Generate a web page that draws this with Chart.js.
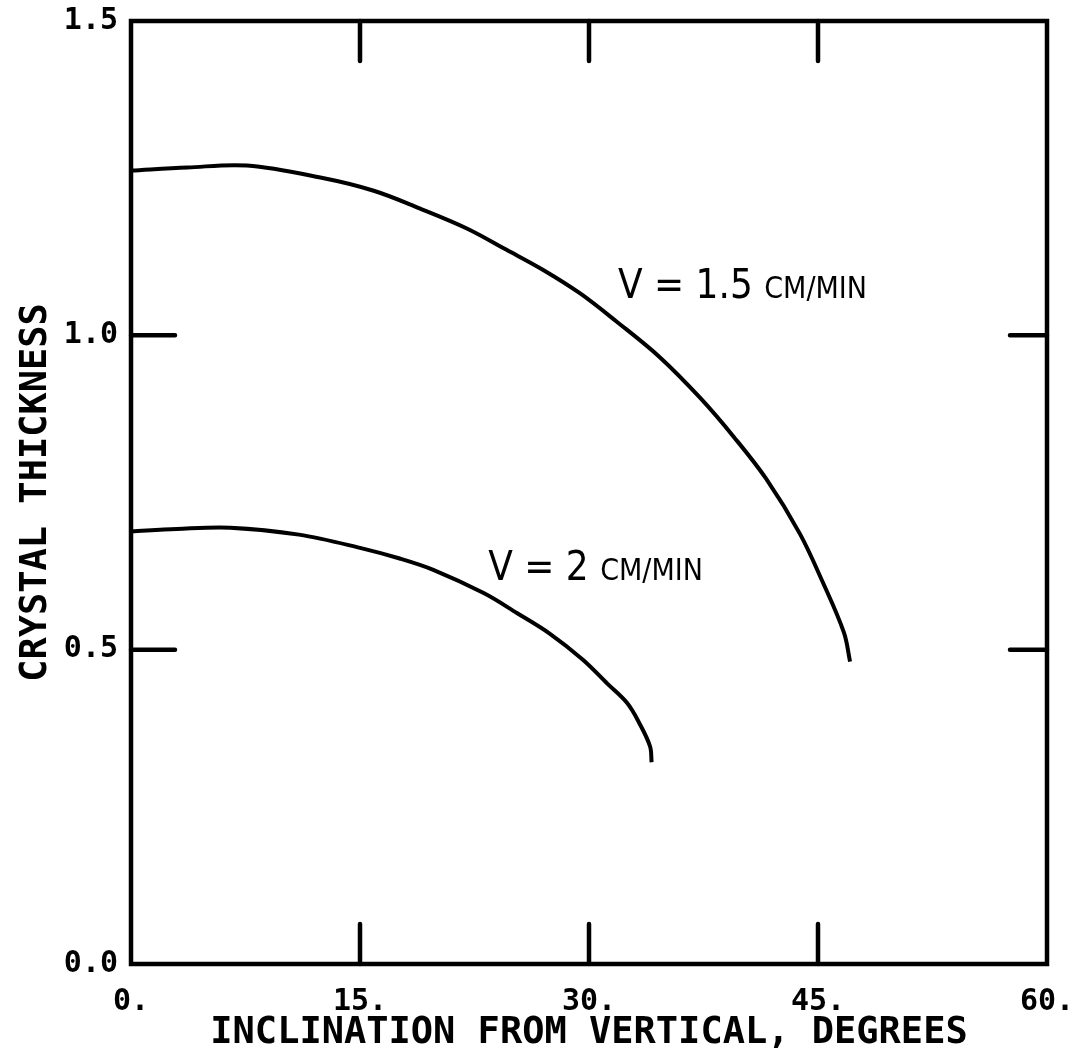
<!DOCTYPE html>
<html>
<head>
<meta charset="utf-8">
<script src="https://cdn.jsdelivr.net/npm/chart.js@4/dist/chart.umd.min.js"></script>
<style>
  html, body { margin: 0; padding: 0; background: #fff; }
  #wrap { width: 1082px; height: 1058px; }
</style>
</head>
<body>
<div id="wrap"><canvas id="c" width="1082" height="1058"></canvas></div>
<script>
// ---- data ----
const xTicks = [0, 15, 30, 45, 60];
const yTicks = [0.0, 0.5, 1.0, 1.5];

const v15_x = [0, 3.7, 7.6, 12.4, 15.9, 18.9, 22.0, 24.6, 27.0, 29.4, 31.8, 34.6, 37.3, 39.5, 41.6, 43.8, 45.3, 46.7, 47.1];
const v15_y = [1.262, 1.267, 1.270, 1.251, 1.230, 1.202, 1.170, 1.136, 1.104, 1.067, 1.022, 0.966, 0.900, 0.838, 0.772, 0.685, 0.608, 0.527, 0.481];

const v2_x = [0, 3, 6.5, 11, 15, 17.6, 19.8, 23.1, 25.3, 27.4, 29.6, 31.2, 32.5, 33.3, 34.0, 34.1];
const v2_y = [0.688, 0.692, 0.694, 0.683, 0.662, 0.645, 0.627, 0.590, 0.558, 0.526, 0.484, 0.446, 0.415, 0.383, 0.346, 0.321];

const seriesLabels = ["V = 1.5 CM/MIN", "V = 2 CM/MIN"];
const labelBig = ["V = 1.5 ", "V = 2 "];
const labelSmall = ["CM/MIN", "CM/MIN"];
const labelAt = [[31.9, 1.06], [23.4, 0.611]];

const xTitle = "INCLINATION FROM VERTICAL, DEGREES";
const yTitle = "CRYSTAL THICKNESS";

const toPts = (xs, ys) => xs.map((x, i) => ({ x: x, y: ys[i] }));

const tickFont = { family: "'DejaVu Sans Mono'", weight: 'bold', size: 30 };
const titleFont = { family: "'DejaVu Sans Mono'", weight: 'bold', size: 37 };

const framePlugin = {
  id: 'frame',
  afterDraw(chart) {
    const ctx = chart.ctx;
    const a = chart.chartArea;
    const xs = chart.scales.x, ys = chart.scales.y;
    ctx.save();
    ctx.strokeStyle = '#000';
    ctx.lineWidth = 4.5;
    ctx.lineCap = 'round';
    ctx.strokeRect(a.left, a.top, a.right - a.left, a.bottom - a.top);
    const L = 40;
    xTicks.forEach(v => {
      if (v === xs.min || v === xs.max) return;
      const px = xs.getPixelForValue(v);
      ctx.beginPath();
      ctx.moveTo(px, a.bottom); ctx.lineTo(px, a.bottom - L);
      ctx.moveTo(px, a.top); ctx.lineTo(px, a.top + L);
      ctx.stroke();
    });
    yTicks.forEach(v => {
      if (v === ys.min || v === ys.max) return;
      const py = ys.getPixelForValue(v);
      ctx.beginPath();
      ctx.moveTo(a.left, py); ctx.lineTo(a.left + 44, py);
      ctx.moveTo(a.right, py); ctx.lineTo(a.right - 37, py);
      ctx.stroke();
    });
    // curve labels
    ctx.fillStyle = '#000';
    ctx.textBaseline = 'alphabetic';
    ctx.textAlign = 'left';
    labelAt.forEach((p, i) => {
      let px = xs.getPixelForValue(p[0]);
      const py = ys.getPixelForValue(p[1]);
      ctx.font = "40px 'DejaVu Sans Condensed', 'DejaVu Sans'";
      ctx.fillText(labelBig[i], px, py);
      px += ctx.measureText(labelBig[i]).width;
      ctx.font = "30px 'DejaVu Sans Condensed', 'DejaVu Sans'";
      ctx.fillText(labelSmall[i], px, py);
    });
    ctx.restore();
  }
};

new Chart(document.getElementById('c'), {
  type: 'scatter',
  data: {
    datasets: [
      { label: seriesLabels[0], data: toPts(v15_x, v15_y), showLine: true, borderColor: '#000', borderWidth: 4, pointRadius: 0, tension: 0.35, fill: false },
      { label: seriesLabels[1], data: toPts(v2_x, v2_y), showLine: true, borderColor: '#000', borderWidth: 4, pointRadius: 0, tension: 0.35, fill: false }
    ]
  },
  options: {
    responsive: false,
    animation: false,
    devicePixelRatio: 1,
    layout: { padding: { left: 0, right: 35, top: 21, bottom: 0 } },
    plugins: { legend: { display: false }, tooltip: { enabled: false } },
    scales: {
      x: {
        type: 'linear', min: 0, max: 60,
        afterBuildTicks: s => { s.ticks = xTicks.map(v => ({ value: v })); },
        afterFit: s => { s.height = 94; s.paddingLeft = 0; s.paddingRight = 0; },
        grid: { display: false, drawTicks: false },
        border: { display: false },
        ticks: { color: '#000', font: tickFont, padding: 20, maxRotation: 0, autoSkip: false, callback: v => v + '.' },
        title: { display: true, text: xTitle, color: '#000', font: titleFont, padding: { top: 0, bottom: 2 } }
      },
      y: {
        type: 'linear', min: 0, max: 1.5,
        afterBuildTicks: s => { s.ticks = yTicks.map(v => ({ value: v })); },
        afterFit: s => { s.width = 131; s.paddingTop = 0; s.paddingBottom = 0; },
        grid: { display: false, drawTicks: false },
        border: { display: false },
        ticks: { color: '#000', font: tickFont, padding: 13, autoSkip: false, callback: v => Number(v).toFixed(1) },
        title: { display: true, text: yTitle, color: '#000', font: titleFont, padding: { top: 14, bottom: 0 } }
      }
    }
  },
  plugins: [framePlugin]
});
</script>
</body>
</html>
